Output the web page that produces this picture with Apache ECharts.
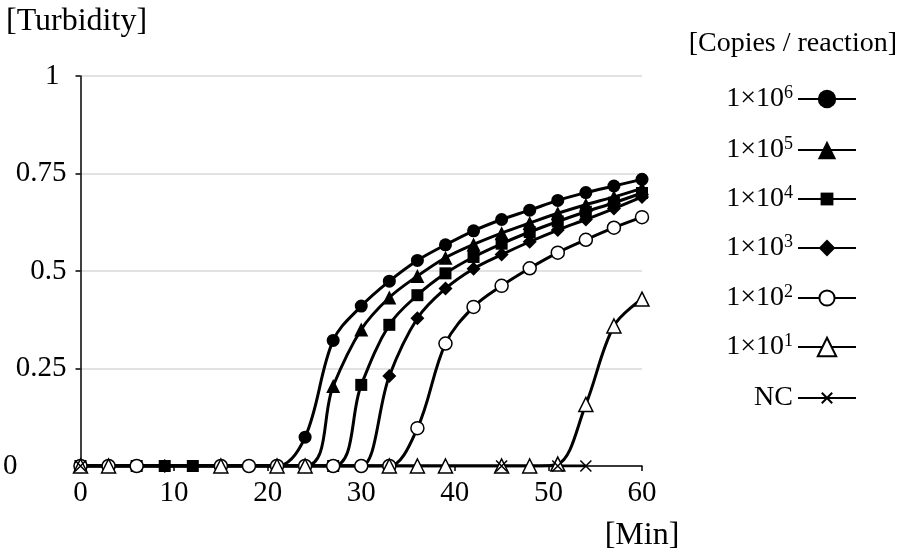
<!DOCTYPE html>
<html>
<head>
<meta charset="utf-8">
<script src="https://cdn.jsdelivr.net/npm/echarts@6/dist/echarts.min.js"></script>
<style>
html,body{margin:0;padding:0;background:#fff;}
#chart{width:898px;height:557px;}
</style>
</head>
<body>
<div id="chart"></div>
<script>
// ---- data ----
const seriesNames = ['1e6', '1e5', '1e4', '1e3', '1e2', '1e1', 'NC'];
const legendBase = ['1×10', '1×10', '1×10', '1×10', '1×10', '1×10', 'NC'];
const legendExp = ['6', '5', '4', '3', '2', '1', ''];

const t1e6 = [0, 21, 24, 27, 30, 33, 36, 39, 42, 45, 48, 51, 54, 57, 60];
const v1e6 = [0, 0, 0.074, 0.322, 0.410, 0.474, 0.527, 0.567, 0.603, 0.632, 0.656, 0.681, 0.701, 0.718, 0.735];

const t1e5 = [0, 24, 27, 30, 33, 36, 39, 42, 45, 48, 51, 54, 57, 60];
const v1e5 = [0, 0, 0.205, 0.350, 0.432, 0.487, 0.534, 0.568, 0.597, 0.623, 0.648, 0.670, 0.690, 0.712];

const t1e4 = [0, 6, 9, 12, 27, 30, 33, 36, 39, 42, 45, 48, 51, 54, 57, 60];
const v1e4 = [0, 0, 0, 0, 0, 0.208, 0.362, 0.438, 0.494, 0.536, 0.570, 0.600, 0.627, 0.652, 0.675, 0.700];

const t1e3 = [0, 9, 18, 27, 30, 33, 36, 39, 42, 45, 48, 51, 54, 57, 60];
const v1e3 = [0, 0, 0, 0, 0, 0.231, 0.379, 0.455, 0.506, 0.542, 0.575, 0.605, 0.632, 0.660, 0.690];

const t1e2 = [0, 3, 6, 15, 18, 21, 24, 27, 30, 33, 36, 39, 42, 45, 48, 51, 54, 57, 60];
const v1e2 = [0, 0, 0, 0, 0, 0, 0, 0, 0, 0, 0.097, 0.314, 0.408, 0.462, 0.507, 0.547, 0.580, 0.611, 0.638];

const t1e1 = [0, 3, 15, 21, 24, 33, 36, 39, 45, 48, 51, 54, 57, 60];
const v1e1 = [0, 0, 0, 0, 0, 0, 0, 0, 0, 0, 0.005, 0.158, 0.359, 0.428];

const tNC = [0, 45, 51, 54];
const vNC = [0, 0, 0, 0];

const xTicks = [0, 10, 20, 30, 40, 50, 60];
const yTicks = [0, 0.25, 0.5, 0.75, 1];

// ---- styling ----
const FONT = "'Liberation Serif', 'Times New Roman', serif";
const TICK_FS = 29;
const times = [t1e6, t1e5, t1e4, t1e3, t1e2, t1e1, tNC];
const values = [v1e6, v1e5, v1e4, v1e3, v1e2, v1e1, vNC];
const CROSS = 'path://M0,0L10,10M10,0L0,10';
const markerStyle = [
  {symbol: 'circle', size: 13, fill: '#000'},
  {symbol: 'triangle', size: 14, fill: '#000'},
  {symbol: 'rect', size: 12, fill: '#000'},
  {symbol: 'diamond', size: 14, fill: '#000'},
  {symbol: 'circle', size: 13, fill: '#fff'},
  {symbol: 'triangle', size: 14, fill: '#fff'},
  {symbol: CROSS, size: 11, fill: 'none'}
];
const legendIconH = [23, 23, 16, 21, 19, 23, 13];
const legendRowY = [99, 150, 199, 248, 298, 347, 398];

const zip = (xs, ys) => xs.map((x, i) => [x, ys[i]]);

const series = seriesNames.map((name, i) => ({
  name: name,
  type: 'line',
  data: zip(times[i], values[i]),
  smooth: 0.35,
  symbol: markerStyle[i].symbol,
  symbolSize: markerStyle[i].size,
  showAllSymbol: true,
  lineStyle: {color: '#000', width: 3},
  itemStyle: {
    color: markerStyle[i].fill === 'none' ? '#000' : markerStyle[i].fill,
    borderColor: '#000',
    borderWidth: markerStyle[i].fill === '#000' ? 0 : 1.5
  },
  emphasis: {disabled: true},
  animation: false
}));

const legends = seriesNames.map((name, i) => ({
  data: [name],
  right: 41,
  top: legendRowY[i] - 15,
  padding: 0,
  orient: 'vertical',
  align: 'right',
  itemWidth: 58,
  itemHeight: legendIconH[i],
  selectedMode: false,
  formatter: () => legendExp[i] ? '{b|' + legendBase[i] + '}{sup|' + legendExp[i] + '}' : '{b|' + legendBase[i] + '}',
  textStyle: {
    fontFamily: FONT, fontSize: 28, color: '#000', lineHeight: 30,
    rich: {
      b: {fontFamily: FONT, fontSize: 28, color: '#000', lineHeight: 30},
      sup: {fontFamily: FONT, fontSize: 18, color: '#000', lineHeight: 18, verticalAlign: 'top'}
    }
  }
}));

const option = {
  backgroundColor: '#fff',
  animation: false,
  title: {
    text: '[Copies / reaction]',
    right: 1,
    top: 30,
    padding: 0,
    textStyle: {fontFamily: FONT, fontSize: 28, fontWeight: 'normal', color: '#000'}
  },
  legend: legends,
  grid: {left: 77, right: 256, top: 76, bottom: 91, containLabel: false},
  xAxis: {
    type: 'value',
    min: 0, max: 60, interval: 10,
    name: '[Min]',
    nameLocation: 'end',
    nameGap: 0,
    nameTextStyle: {fontFamily: FONT, fontSize: 32, color: '#000', align: 'center', verticalAlign: 'top', padding: [54, 0, 0, 0]},
    axisLine: {show: true, lineStyle: {color: '#000', width: 1.5}},
    axisTick: {show: true, inside: false, length: 5, lineStyle: {color: '#000', width: 1.5}},
    axisLabel: {fontFamily: FONT, fontSize: TICK_FS, color: '#000', margin: 13,
      formatter: v => xTicks.indexOf(v) >= 0 ? String(v) : ''},
    splitLine: {show: false}
  },
  yAxis: {
    type: 'value',
    min: 0, max: 1, interval: 0.25,
    name: '[Turbidity]',
    nameLocation: 'end',
    nameGap: 38,
    nameTextStyle: {fontFamily: FONT, fontSize: 32, color: '#000', align: 'center', padding: [0, 8, 0, 0]},
    axisLine: {show: true, lineStyle: {color: '#000', width: 1.5}},
    axisTick: {show: true, inside: false, length: 5, lineStyle: {color: '#000', width: 1.5}},
    axisLabel: {
      fontFamily: FONT, fontSize: TICK_FS, color: '#000', margin: 14, align: 'right',
      formatter: v => {
        if (yTicks.indexOf(v) < 0) return '';
        if (v === 0) return '{z|0}';
        if (v === 1) return '{o|1}';
        return String(v);
      },
      rich: {
        z: {fontFamily: FONT, fontSize: TICK_FS, color: '#000', padding: [0, 49, 0, 0]},
        o: {fontFamily: FONT, fontSize: TICK_FS, color: '#000', padding: [0, 7, 0, 0]}
      }
    },
    splitLine: {show: true, lineStyle: {color: '#d9d9d9', width: 1.5}}
  },
  series: series
};

const chart = echarts.init(document.getElementById('chart'), null, {renderer: 'canvas'});
chart.setOption(option);
</script>
</body>
</html>
